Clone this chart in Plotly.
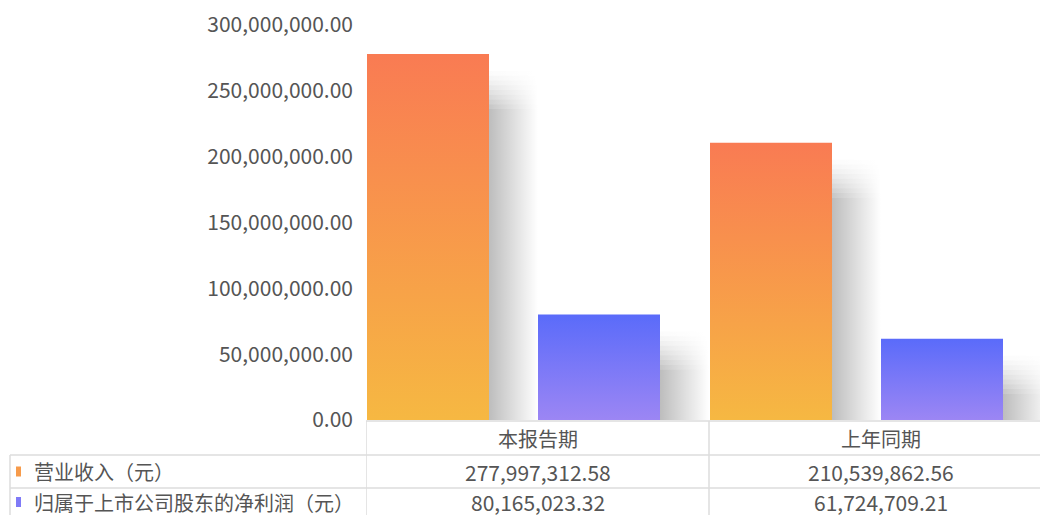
import plotly.graph_objects as go

# ---------------- data ----------------
categories = ["本报告期", "上年同期"]
series_names = ["营业收入（元）", "归属于上市公司股东的净利润（元）"]
revenue = [277997312.58, 210539862.56]
net_profit = [80165023.32, 61724709.21]
y_ticks = [0, 50e6, 100e6, 150e6, 200e6, 250e6, 300e6]

# ---------------- styling ----------------
W, H = 1040, 515
L, T, B = 366, 25, 95
PW, PH = W - L, H - T - B           # plot area in px
CAT_PX = 343                         # px per category
YMAX = 300e6
FONT = "Noto Sans CJK SC"
TXT = "#555555"
GRID = "#dcdcdc"

orange_scale = [[0, "#F6B842"], [1, "#F97B53"]]
blue_scale = [[0, "#9C86F4"], [1, "#5A6BFA"]]
BAR_W = 122 / CAT_PX
offsets = [-0.5 + 1 / CAT_PX, 0.5 / CAT_PX]   # left edge offsets of the two series within a category

def px2x(p):
    return (p - L) / PW

def py2y(p):
    return (H - B - p) / PH

ypx = YMAX / PH   # data units per px (y)
xpx = 1 / CAT_PX  # data units per px (x)

fig = go.Figure()

series = [(revenue, orange_scale, offsets[0]), (net_profit, blue_scale, offsets[1])]

# shadows first (behind bars)
for vals, scale, off in series:
    for i, v in enumerate(vals):
        x0 = i + off + BAR_W
        x1 = x0 + 49 * xpx
        top_solid = v - 55 * ypx
        bands = [(0, top_solid, 0.26)]
        nb = 8
        for k in range(nb):
            ya = top_solid + k * (38 * ypx / nb)
            yb = top_solid + (k + 1) * (38 * ypx / nb)
            a = 0.26 * (1 - (k + 1) / (nb + 1)) ** 1.3
            bands.append((ya, yb, a))
        for ya, yb, a in bands:
            fig.add_trace(go.Scatter(
                x=[x0, x1, x1, x0, x0], y=[ya, ya, yb, yb, ya],
                mode="lines", line=dict(width=0), fill="toself",
                fillgradient=dict(type="horizontal", start=x0, stop=x1,
                                  colorscale=[[0, f"rgba(0,0,0,{a:.3f})"], [1, "rgba(0,0,0,0)"]]),
                hoverinfo="skip", showlegend=False))

# bars with vertical gradient
for (vals, scale, off), name in zip(series, series_names):
    for i, v in enumerate(vals):
        x0 = i + off
        x1 = x0 + BAR_W
        fig.add_trace(go.Scatter(
            x=[x0, x1, x1, x0, x0], y=[0, 0, v, v, 0],
            mode="lines", line=dict(width=0), fill="toself",
            fillgradient=dict(type="vertical", start=0, stop=v, colorscale=scale),
            name=name, hoverinfo="skip", showlegend=False))

shapes = []
annotations = []

# table lines
line = dict(color=GRID, width=1.5)
row_y = [421, 455, 488]
for k, yp in enumerate(row_y):
    shapes.append(dict(type="line", xref="paper", yref="paper",
                       x0=px2x(366 if k == 0 else 10), x1=1.0,
                       y0=py2y(yp), y1=py2y(yp), line=line))
shapes.append(dict(type="line", xref="paper", yref="paper", x0=px2x(10), x1=px2x(10),
                   y0=py2y(455), y1=py2y(H + 5), line=line))
for xb in [-0.5, 0.5]:
    shapes.append(dict(type="line", xref="x", yref="paper", x0=xb, x1=xb,
                       y0=py2y(421), y1=py2y(H + 5), line=line))

# header
for i, c in enumerate(categories):
    annotations.append(dict(x=i, xref="x", y=py2y(438), yref="paper", text=c,
                            showarrow=False, font=dict(size=20, color=TXT, family=FONT),
                            xanchor="center", yanchor="middle"))

# rows
legend_cols = ["#F79B4B", "#7F7AF7"]
row_centers = [471.5, 502]
for r, (vals, name) in enumerate([(revenue, series_names[0]), (net_profit, series_names[1])]):
    yc = row_centers[r]
    shapes.append(dict(type="rect", xref="paper", yref="paper",
                       x0=px2x(16), x1=px2x(21), y0=py2y(yc - 5), y1=py2y(yc + 5),
                       fillcolor=legend_cols[r], line=dict(width=0)))
    annotations.append(dict(x=px2x(32), xref="paper", y=py2y(yc), yref="paper", text=name,
                            showarrow=False, font=dict(size=20, color=TXT, family=FONT),
                            xanchor="left", yanchor="middle"))
    for i, v in enumerate(vals):
        annotations.append(dict(x=i, xref="x", y=py2y(yc), yref="paper", text=f"{v:,.2f}",
                                showarrow=False, font=dict(size=21, color=TXT, family=FONT),
                                xanchor="center", yanchor="middle"))

fig.update_layout(
    width=W, height=H,
    margin=dict(l=L, r=0, t=T, b=B, pad=0),
    paper_bgcolor="white", plot_bgcolor="white",
    showlegend=False,
    font=dict(family=FONT, color=TXT, size=20),
    xaxis=dict(range=[-0.5, 1.5 - 12 / CAT_PX], showticklabels=False, showgrid=False,
               zeroline=False, showline=False, ticks="", fixedrange=True),
    yaxis=dict(range=[0, YMAX], tickvals=y_ticks, tickformat=",.2f", showgrid=False,
               zeroline=False, showline=False, ticks="", ticklabelstandoff=12,
               tickfont=dict(size=21, color=TXT, family=FONT), fixedrange=True),
    shapes=shapes, annotations=annotations,
)

fig.write_html("out.html", config={"displayModeBar": False},
               post_script="document.body.style.margin='0px';document.body.style.overflow='hidden';")
